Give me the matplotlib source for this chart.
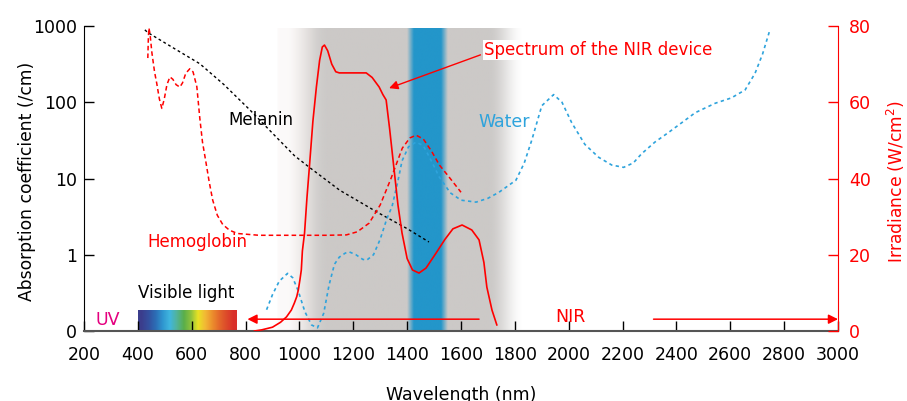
import numpy as np
import matplotlib
matplotlib.use('Agg')
import matplotlib.pyplot as plt
from matplotlib.colors import to_rgb


# ---- data ----
melanin_nm  = [426, 437, 530, 630, 720, 815, 889, 981, 1037, 1150, 1296, 1400, 1481]
melanin_val = [890, 820, 520, 320, 170, 80, 43, 20, 14, 7.0, 3.5, 2.2, 1.47]

hb_nm  = [437, 439, 441, 445, 452, 462, 470, 480, 489, 498, 508, 519, 530, 542, 556,
          566, 578, 593, 605, 619, 630, 640, 652, 665, 678, 695, 715, 740, 770,
          850, 1000, 1100, 1174, 1215, 1259, 1300, 1340, 1382, 1410, 1433, 1460,
          1490, 1520, 1560, 1600]
hb_val = [380, 700, 940, 800, 450, 250, 178, 110, 83, 110, 170, 215, 200, 170, 158,
          180, 240, 275, 250, 160, 62, 30, 17, 9, 5.2, 3.3, 2.5, 2.1, 1.9,
          1.8, 1.8, 1.8, 1.82, 2.0, 2.6, 4.5, 10, 25, 34, 37, 33,
          23, 15, 10, 6.6]

water_nm  = [878, 900, 925, 956, 975, 995, 1020, 1045, 1067, 1090, 1110, 1130, 1148,
             1170, 1185, 1210, 1235, 1250, 1275, 1300, 1325, 1344, 1365, 1381, 1405,
             1433, 1460, 1490, 1519, 1560, 1600, 1656, 1700, 1741, 1804, 1835, 1863,
             1900, 1944, 1975, 2011, 2060, 2111, 2160, 2204, 2240, 2270, 2320, 2370,
             2420, 2470, 2544, 2604, 2655, 2692, 2720, 2748]
water_val = [0.19, 0.3, 0.45, 0.57, 0.5, 0.34, 0.18, 0.12, 0.11, 0.17, 0.4, 0.75, 0.93,
             1.05, 1.09, 1.0, 0.87, 0.85, 1.0, 1.6, 3.0, 4.3, 9, 17, 26,
             30, 27, 17, 10.5, 6.5, 5.2, 4.9, 5.5, 6.6, 9.5, 16, 32,
             90, 126, 100, 54, 28, 19, 15, 14, 16, 21, 30, 40,
             54, 73, 97, 114, 145, 240, 430, 910]

nir_nm  = [833, 860, 900, 930, 952, 970, 981, 990, 996, 1002, 1007, 1011, 1019, 1028,
           1037, 1050, 1063, 1075, 1085, 1093, 1105, 1120, 1135, 1148, 1200, 1248,
           1270, 1296, 1310, 1322, 1335, 1352, 1366, 1381, 1400, 1420, 1444, 1470,
           1507, 1540, 1570, 1604, 1640, 1667, 1685, 1696, 1715, 1733]
nir_val = [0, 0.3, 1.0, 2.3, 3.7, 5.5, 7.3, 9.0, 10.8, 13.5, 16, 21, 25.7, 35,
           43, 55, 64, 71, 74.5, 75, 73.5, 70, 68, 67.7, 67.7, 67.7,
           66.5, 64, 62, 60.6, 53, 42, 33, 25.7, 19, 16, 15.2, 16.5,
           20.4, 24, 26.8, 27.8, 26.5, 23.9, 18, 11.5, 5.5, 1.6]

x_ticks = list(range(200, 3001, 200))
y_ticks = [0.1, 1, 10, 100, 1000]
y_ticklabels = ['0', '1', '10', '100', '1000']
r_ticks = [0, 20, 40, 60, 80]

rainbow = ['#3b3d8c', '#34509f', '#2c6db5', '#2f96d0', '#40b6df', '#52b39a',
           '#5aae4a', '#8fc23c', '#e9e224', '#f2b935', '#ec8f2d', '#e4682b',
           '#dd4b2a', '#d9302a']

RED = '#ff0000'
BLUE = '#2ea3dc'

pos = [84 / 907, 1 - 331 / 401, (838 - 84) / 907, (331 - 26) / 401]

fig = plt.figure(figsize=(9.07, 4.01), dpi=100)

# background bands (own axes, behind everything)
bg = fig.add_axes(pos, zorder=0)
bg.set_xlim(200, 3000)
bg.set_ylim(0, 1)
bg.axis('off')

gx = np.linspace(915, 1830, 500)
left = np.clip((gx - 915) / 190, 0, 1)
right = np.clip((1830 - gx) / 130, 0, 1)
ga = 0.88 * (left * left * (3 - 2 * left)) * (right * right * (3 - 2 * right))
ga = np.maximum(ga, 0.12 * (gx < 1700) * (gx > 915))
gray = np.zeros((1, len(gx), 4))
mix = np.clip((gx - 915) / 150, 0, 1)[:, None]
gray[0, :, :3] = (1 - mix) * np.array(to_rgb('#e8d6d0')) + mix * np.array(to_rgb('#c5c2c0'))
gray[0, :, 3] = ga
bg.imshow(gray, extent=[915, 1830, 0, 0.993], aspect='auto', interpolation='bilinear')

bx = np.linspace(1400, 1550, 200)
ba = np.clip((bx - 1400) / 25, 0, 1) * np.clip((1550 - bx) / 25, 0, 1)
blue = np.zeros((1, len(bx), 4))
blue[0, :, :3] = to_rgb('#2396ca')
blue[0, :, 3] = ba
bg.imshow(blue, extent=[1400, 1550, 0, 0.993], aspect='auto', interpolation='bilinear')

rb = np.array([[to_rgb(c) for c in rainbow]])
bg.imshow(rb, extent=[400, 767, 0, 0.066], aspect='auto', interpolation='bilinear')

# absorption axis (log)
ax = fig.add_axes(pos, zorder=1)
ax.set_facecolor('none')
ax.set_yscale('log')
ax.set_xlim(200, 3000)
ax.set_ylim(0.1, 1000)

ax.plot(melanin_nm, melanin_val, color='black', lw=1.0, ls=(0, (2, 2)))
ax.plot(hb_nm, hb_val, color=RED, lw=1.1, ls=(0, (3, 2)))
ax.plot(water_nm, water_val, color=BLUE, lw=1.2, ls=(0, (2, 2)))

ax.set_xticks(x_ticks)
ax.set_yticks(y_ticks)
ax.set_yticklabels(y_ticklabels)
ax.yaxis.set_minor_locator(matplotlib.ticker.NullLocator())
ax.tick_params(axis='x', direction='in', length=7, width=1, labelsize=12.5, pad=11)
ax.tick_params(axis='y', direction='in', length=7, width=1, labelsize=12.5, pad=5)
ax.spines['top'].set_visible(False)
ax.spines['right'].set_visible(False)
ax.spines['bottom'].set_color('#555555')
ax.spines['bottom'].set_linewidth(1.5)
ax.spines['left'].set_color('black')

ax.set_xlabel('Wavelength (nm)', fontsize=12.5)
ax.xaxis.set_label_coords(0.5, -0.18)
ax.set_ylabel('Absorption coefficient (/cm)', fontsize=12.3)
ax.yaxis.set_label_coords(-0.063, 0.49)

# irradiance axis (linear)
ax2 = ax.twinx()
ax2.set_zorder(2)
ax2.set_ylim(0, 80)
ax2.plot(nir_nm, nir_val, color=RED, lw=1.2)
ax2.set_yticks(r_ticks)
ax2.tick_params(axis='y', direction='in', length=7, width=1, colors=RED,
                labelsize=12.5, pad=8)
for s in ['top', 'left', 'bottom']:
    ax2.spines[s].set_visible(False)
ax2.spines['right'].set_color(RED)
ax2.set_ylabel('Irradiance (W/cm$^2$)', fontsize=12.3, color=RED)
ax2.yaxis.set_label_coords(1.062, 0.49)

# NIR range arrows
ax2.annotate('', xy=(807, 3.1), xytext=(1667, 3.1),
             arrowprops=dict(arrowstyle='-|>', color=RED, lw=1.1,
                             mutation_scale=14, shrinkA=0, shrinkB=0))
ax2.annotate('', xy=(3000, 3.1), xytext=(2315, 3.1),
             arrowprops=dict(arrowstyle='-|>', color=RED, lw=1.1,
                             mutation_scale=14, shrinkA=0, shrinkB=0))

ax2.annotate('Spectrum of the NIR device', xy=(1333, 63.7), xytext=(1685, 73.7),
             ha='left', va='center', fontsize=12, color=RED,
             bbox=dict(boxstyle='square,pad=0.05', fc='white', ec='none'),
             arrowprops=dict(arrowstyle='-|>', color=RED, lw=1.0, mutation_scale=13,
                             shrinkA=2, shrinkB=0, relpos=(0, 0.3)))

ax2.text(856, 55.3, 'Melanin', fontsize=12, color='black', ha='center', va='center')
ax2.text(1759, 54.8, 'Water', fontsize=12.5, color=BLUE, ha='center', va='center')
ax2.text(622, 23.3, 'Hemoglobin', fontsize=12, color=RED, ha='center', va='center')
ax2.text(581, 9.9, 'Visible light', fontsize=12, color='black', ha='center', va='center')
ax2.text(289, 3.0, 'UV', fontsize=12.5, color='#e4007f', ha='center', va='center')
ax2.text(2007, 3.6, 'NIR', fontsize=12.5, color=RED, ha='center', va='center')

fig.savefig('out.png', dpi=100)
